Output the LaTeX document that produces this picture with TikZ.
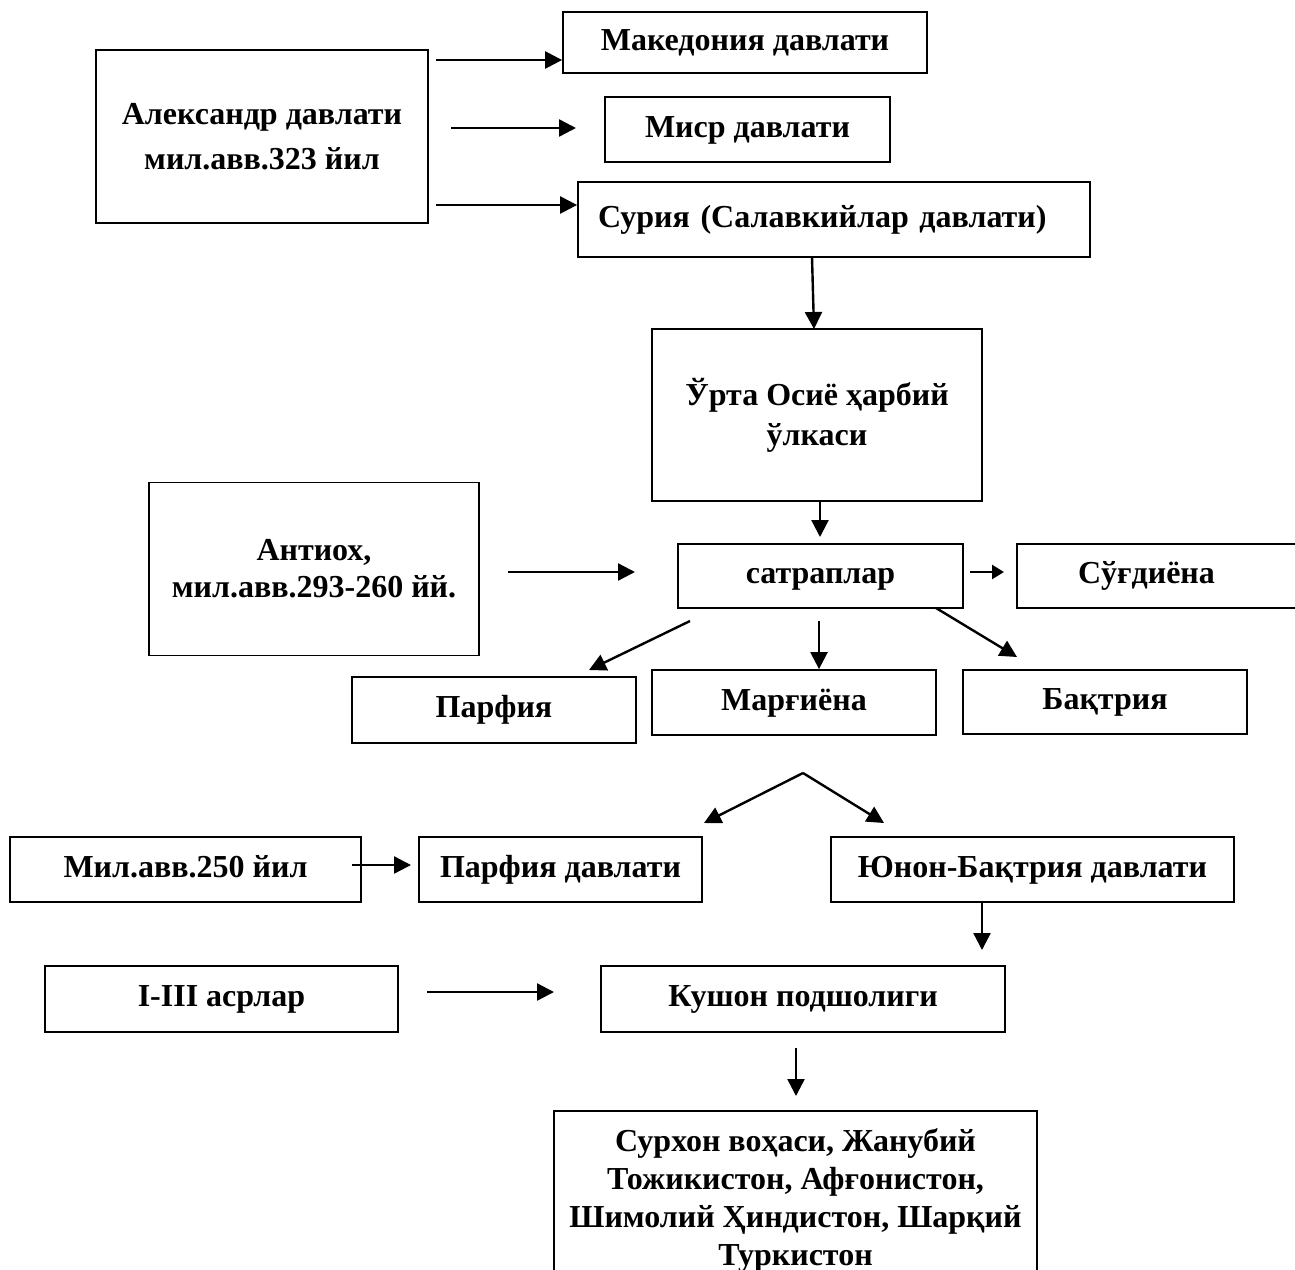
\documentclass[tikz,border=0pt]{standalone}
\usepackage{fontspec}
\setmainfont{Liberation Serif}
\usetikzlibrary{arrows.meta}
\begin{document}
\begin{tikzpicture}[x=1pt,y=-1pt,
  box/.style={draw, line width=1.8pt, inner sep=0pt, align=center,
    font=\bfseries\fontsize{32}{38}\selectfont},
  one/.style={box, text height=22pt, text depth=7pt},
  arr/.style={line width=2.4pt, -{Triangle[length=17pt,width=17pt]}},
  sarr/.style={line width=2.4pt, -{Triangle[length=12pt,width=14pt]}}
]
\useasboundingbox (0,0) rectangle (1295,1269);
\clip (0,0) rectangle (1295,1269);

% nodes
\node[box, minimum width=332pt, minimum height=173pt,
  font=\bfseries\fontsize{32}{45}\selectfont] (alex) at (262,136.5)
  {Александр давлати\\мил.авв.323 йил};
\node[one, minimum width=364pt, minimum height=61pt] (maked) at (745,42.5) {Македония давлати};
\node[one, minimum width=285pt, minimum height=65pt] (misr) at (747.5,129.5) {Миср давлати};
\node[one, minimum width=512pt, minimum height=75pt, text width=472pt, align=left] (suriya) at (834,219.5)
  {Сурия (Салавкийлар давлати)};
\node[box, minimum width=330pt, minimum height=172pt,
  font=\bfseries\fontsize{32}{40}\selectfont] (urta) at (817,415)
  {Ўрта Осиё ҳарбий\\ўлкаси};
\node[box, minimum width=330pt, minimum height=173pt,
  font=\bfseries\fontsize{32}{37}\selectfont] (antiox) at (314,569)
  {Антиох,\\мил.авв.293-260 йй.};
\node[one, minimum width=285pt, minimum height=64pt] (satr) at (820.5,576) {сатраплар};
\node[one, minimum width=283pt, minimum height=64pt, text width=161pt, align=left] (sugd) at (1158.5,576) {Сўғдиёна};
\node[one, minimum width=284pt, minimum height=66pt] (parf) at (494,710) {Парфия};
\node[one, minimum width=284pt, minimum height=65pt] (marg) at (794,702.5) {Марғиёна};
\node[one, minimum width=284pt, minimum height=64pt] (bakt) at (1105,702) {Бақтрия};
\node[one, minimum width=351pt, minimum height=65pt] (mil) at (185.5,869.5) {Мил.авв.250 йил};
\node[one, minimum width=283pt, minimum height=65pt] (parfd) at (560.5,869.5) {Парфия давлати};
\node[one, minimum width=403pt, minimum height=65pt] (yunon) at (1032.5,869.5) {Юнон-Бақтрия давлати};
\node[one, minimum width=353pt, minimum height=66pt] (asr) at (221.5,999) {I-III асрлар};
\node[one, minimum width=404pt, minimum height=66pt] (kush) at (803,999) {Кушон подшолиги};
\node[box, minimum width=483pt, minimum height=178pt] (last) at (795.5,1200)
  {Сурхон воҳаси, Жанубий\\Тожикистон, Афғонистон,\\Шимолий Ҳиндистон, Шарқий\\Туркистон};

% free connector ends
\coordinate (s1) at (436,60);
\coordinate (s2) at (451,128);
\coordinate (e2) at (576,128);
\coordinate (s3) at (436,205);
\coordinate (s4) at (812,257);
\coordinate (e4) at (814,329);
\coordinate (s5) at (820,501);
\coordinate (e5) at (820,537);
\coordinate (s6) at (508,572);
\coordinate (e6) at (635,572);
\coordinate (s7) at (970,572);
\coordinate (e7) at (1004,572);
\coordinate (s8) at (690,621);
\coordinate (e8) at (589,670);
\coordinate (s9) at (819,621);
\coordinate (s10) at (936,608);
\coordinate (e10) at (1017,657);
\coordinate (peak) at (803,773);
\coordinate (e11) at (704,823);
\coordinate (e12) at (884,823);
\coordinate (s13) at (352,865);
\coordinate (e13) at (411,865);
\coordinate (s14) at (982,902);
\coordinate (e14) at (982,950);
\coordinate (s15) at (427,992);
\coordinate (e15) at (554,992);
\coordinate (s16) at (796,1048);
\coordinate (e16) at (796,1096);

% connectors
\draw[arr] (s1) -- (s1 -| maked.west);
\draw[arr] (s2) -- (e2);
\draw[arr] (s3) -- (s3 -| suriya.west);
\draw[arr] (s4) -- (e4);
\draw[arr] (s5) -- (e5);
\draw[arr] (s6) -- (e6);
\draw[sarr] (s7) -- (e7);
\draw[arr] (s8) -- (e8);
\draw[arr] (s9) -- (s9 |- marg.north);
\draw[arr] (s10) -- (e10);
\draw[arr] (peak) -- (e11);
\draw[arr] (peak) -- (e12);
\draw[arr] (s13) -- (e13);
\draw[arr] (s14) -- (e14);
\draw[arr] (s15) -- (e15);
\draw[arr] (s16) -- (e16);
\end{tikzpicture}
\end{document}
